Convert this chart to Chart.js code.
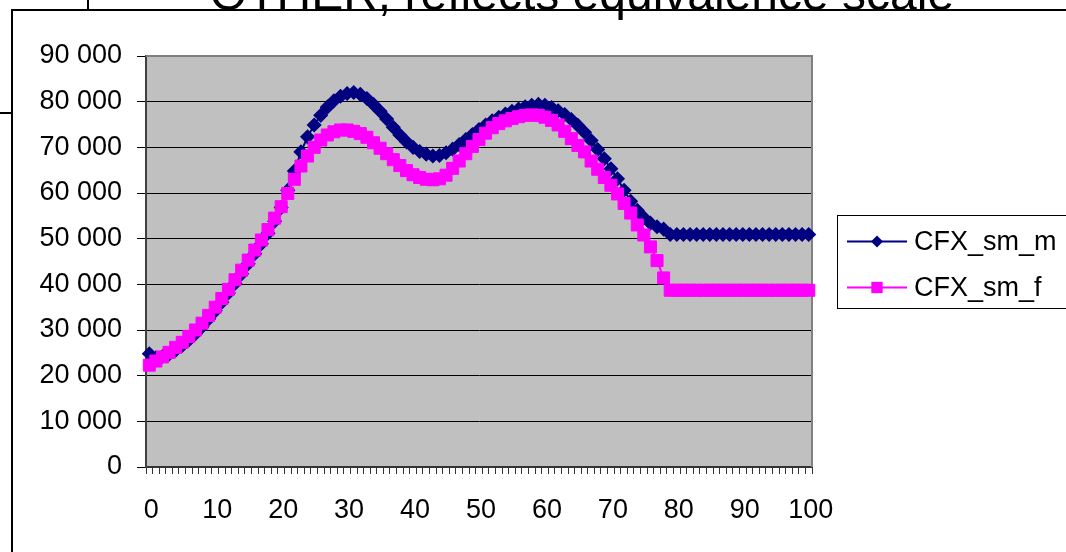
<!DOCTYPE html>
<html>
<head>
<meta charset="utf-8">
<script src="https://cdn.jsdelivr.net/npm/chart.js@4.4.0/dist/chart.umd.min.js"></script>
<style>
  html, body { margin: 0; padding: 0; background: #fff; }
  #wrap { position: relative; width: 1066px; height: 552px; overflow: hidden; }
</style>
</head>
<body>
<div id="wrap"><canvas id="chart" width="1066" height="552"></canvas></div>
<script>
// Data
const titleText = 'OTHER, reflects equivalence scale';
const ages = Array.from({ length: 101 }, (_, i) => i);
const xTickLabels = ['0', '10', '20', '30', '40', '50', '60', '70', '80', '90', '100'];
const yTicks = [0, 10000, 20000, 30000, 40000, 50000, 60000, 70000, 80000, 90000];

const cfxMale = [
    24800, 23900, 24200, 24700, 25600, 26600, 27800, 29200, 30700, 32400,
    34200, 36100, 38100, 40200, 42300, 44500, 46700, 48900, 51200, 53800,
    56800, 60600, 64800, 69000, 72300, 74900, 77000, 78800, 80200, 81200,
    81800, 82000, 81600, 80700, 79400, 77900, 76200, 74400, 72700, 71200,
    70000, 69100, 68500, 68100, 68200, 68800, 69600, 70600, 71700, 72800,
    73900, 74900, 75800, 76600, 77300, 77900, 78400, 78900, 79200, 79400,
    79200, 78700, 78000, 77200, 76100, 74800, 73300, 71500, 69500, 67500,
    65300, 63100, 60600, 58200, 56200, 54600, 53400, 52600, 52100, 50900,
    50900, 50900, 50900, 50900, 50900, 50900, 50900, 50900, 50900, 50900,
    50900, 50900, 50900, 50900, 50900, 50900, 50900, 50900, 50900, 50900,
    50900
];

const cfxFemale = [
    22300, 23200, 24100, 25100, 26200, 27300, 28600, 30000, 31500, 33200,
    35000, 36900, 38900, 41000, 43100, 45300, 47500, 49700, 52000, 54500,
    57000, 59900, 63000, 65900, 68100, 70000, 71600, 72700, 73400, 73800,
    73800, 73500, 73000, 72200, 71000, 69800, 68600, 67300, 66000, 64900,
    64000, 63400, 63000, 62900, 63100, 63900, 65400, 67000, 68600, 70200,
    71700, 73100, 74300, 75200, 75800, 76300, 76700, 77000, 77100, 77000,
    76600, 75900, 74900, 73500, 71900, 70400, 69000, 67000, 65200, 63400,
    61700, 59800, 57700, 55600, 53000, 50800, 48200, 45200, 41400, 38700,
    38700, 38700, 38700, 38700, 38700, 38700, 38700, 38700, 38700, 38700,
    38700, 38700, 38700, 38700, 38700, 38700, 38700, 38700, 38700, 38700,
    38700
];

const FONT = 'Arial, "Liberation Sans", sans-serif';
const NAVY = '#000080';
const MAGENTA = '#FF00FF';

// Format 90000 -> "90 000"
function spaced(v) {
    return String(v).replace(/\B(?=(\d{3})+(?!\d))/g, ' ');
}

function drawMarker(ctx, style, x, y, r, color) {
    ctx.save();
    ctx.fillStyle = color;
    ctx.beginPath();
    if (style === 'rectRot') {
        ctx.moveTo(x, y - r);
        ctx.lineTo(x + r, y);
        ctx.lineTo(x, y + r);
        ctx.lineTo(x - r, y);
        ctx.closePath();
    } else {
        const s = r * Math.SQRT1_2;
        ctx.rect(x - s, y - s, 2 * s, 2 * s);
    }
    ctx.fill();
    ctx.restore();
}

// Frame, title, plot background, legend
const excelLook = {
    id: 'excelLook',
    beforeDraw(chart) {
        const { ctx, chartArea: a } = chart;
        ctx.save();
        ctx.fillStyle = '#fff';
        ctx.fillRect(0, 0, chart.width, chart.height);
        ctx.fillStyle = '#C0C0C0';
        ctx.fillRect(a.left, a.top, a.right - a.left, a.bottom - a.top);

        ctx.strokeStyle = '#000';
        ctx.lineWidth = 2;
        ctx.beginPath();
        ctx.moveTo(12, chart.height + 2);
        ctx.lineTo(12, 10);
        ctx.lineTo(chart.width + 2, 10);
        ctx.moveTo(0, 113);
        ctx.lineTo(12, 113);
        ctx.moveTo(88, 0);
        ctx.lineTo(88, 10);
        ctx.stroke();

        ctx.fillStyle = '#000';
        ctx.font = '48px ' + FONT;
        ctx.textAlign = 'center';
        ctx.textBaseline = 'alphabetic';
        ctx.fillText(titleText, 582, 10);
        ctx.restore();
    },
    beforeDatasetsDraw(chart) {
        const { ctx, chartArea: a } = chart;
        ctx.save();
        ctx.strokeStyle = '#808080';
        ctx.lineWidth = 2;
        ctx.beginPath();
        ctx.moveTo(a.left, a.top);
        ctx.lineTo(a.right, a.top);
        ctx.lineTo(a.right, a.bottom);
        ctx.stroke();
        ctx.restore();
    },
    afterDraw(chart) {
        const { ctx } = chart;
        ctx.save();
        ctx.strokeStyle = '#000';
        ctx.lineWidth = 1;
        ctx.strokeRect(837.5, 215.5, 260, 93);
        const rows = [241.5, 287.5];
        chart.data.datasets.forEach((ds, i) => {
            const y = rows[i];
            ctx.strokeStyle = ds.borderColor;
            ctx.lineWidth = 2;
            ctx.beginPath();
            ctx.moveTo(847, y);
            ctx.lineTo(907, y);
            ctx.stroke();
            drawMarker(ctx, ds.pointStyle, 877, y, ds.pointStyle === 'rect' ? 8 : 6, ds.borderColor);
            ctx.fillStyle = '#000';
            ctx.font = '27px ' + FONT;
            ctx.textAlign = 'left';
            ctx.textBaseline = 'middle';
            ctx.fillText(ds.label, 914, y + 1);
        });
        ctx.restore();
    }
};

new Chart(document.getElementById('chart'), {
    type: 'line',
    data: {
        labels: ages,
        datasets: [
            {
                label: 'CFX_sm_m',
                data: cfxMale,
                borderColor: NAVY,
                backgroundColor: NAVY,
                borderWidth: 2,
                pointStyle: 'rectRot',
                pointRadius: 6.5,
                pointBorderWidth: 1.5,
                pointBackgroundColor: NAVY,
                pointBorderColor: NAVY,
                order: 2
            },
            {
                label: 'CFX_sm_f',
                data: cfxFemale,
                borderColor: MAGENTA,
                backgroundColor: MAGENTA,
                borderWidth: 2,
                pointStyle: 'rect',
                pointRadius: 8.5,
                pointBorderWidth: 1,
                pointBackgroundColor: MAGENTA,
                pointBorderColor: MAGENTA,
                order: 1
            }
        ]
    },
    options: {
        responsive: false,
        animation: false,
        layout: { padding: { left: 0, top: 56, right: 254, bottom: 0 } },
        plugins: {
            legend: { display: false },
            tooltip: { enabled: false },
            title: { display: false }
        },
        scales: {
            x: {
                type: 'category',
                offset: true,
                afterFit: (scale) => { scale.height = 85; },
                grid: {
                    offset: true,
                    drawOnChartArea: false,
                    drawTicks: true,
                    tickLength: 7,
                    tickColor: '#333',
                    lineWidth: 1
                },
                border: { display: true, color: '#333', width: 2 },
                ticks: {
                    autoSkip: false,
                    maxRotation: 0,
                    minRotation: 0,
                    padding: 20,
                    labelOffset: 2,
                    color: '#000',
                    font: { family: FONT, size: 27 },
                    callback: (val, idx) => (idx % 10 === 0 ? xTickLabels[idx / 10] : '')
                }
            },
            y: {
                min: 0,
                max: 90000,
                afterFit: (scale) => { scale.width = 146; },
                afterBuildTicks: (scale) => { scale.ticks = yTicks.map(v => ({ value: v })); },
                grid: {
                    color: '#000',
                    lineWidth: 1,
                    tickLength: 9,
                    tickColor: '#000'
                },
                border: { display: true, color: '#404040', width: 2 },
                ticks: {
                    padding: 15,
                    color: '#000',
                    font: { family: FONT, size: 27 },
                    callback: (v) => spaced(v)
                }
            }
        }
    },
    plugins: [excelLook]
});
</script>
</body>
</html>
